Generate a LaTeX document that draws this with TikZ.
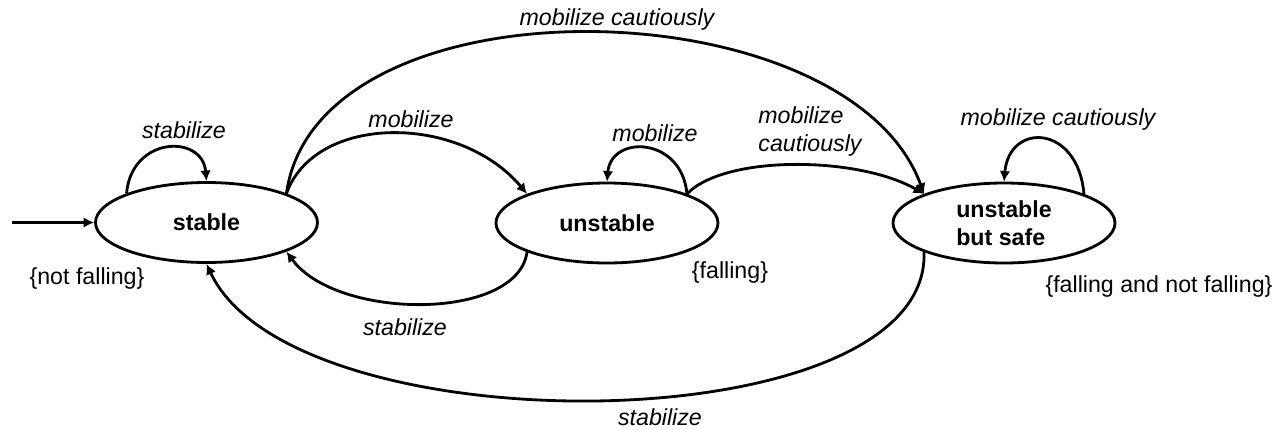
\documentclass[tikz,border=0pt]{standalone}
\usepackage{fontspec}
\setmainfont{Liberation Sans}
\usetikzlibrary{shapes.geometric,arrows.meta}
\begin{document}
\begin{tikzpicture}[>={Latex[length=6pt,width=6pt]}, line width=1.6pt,
  state/.style={draw, ellipse, minimum width=4.44cm, minimum height=1.6cm, inner sep=1pt, align=left, font=\fontsize{13.2pt}{15.9pt}\selectfont\bfseries},
  lbl/.style={inner sep=0pt, align=left, font=\fontsize{13.2pt}{15.9pt}\selectfont\itshape},
  note/.style={inner sep=0pt, font=\fontsize{13.2pt}{15.9pt}\selectfont}]
\useasboundingbox (0,0) rectangle (25.56,-8.6);
\node[state] (stable) at (4.13,-4.45) {stable};
\node[state] (unstable) at (12.14,-4.46) {unstable};
\node[state] (safe) at (20.08,-4.46) {unstable\\but safe};
\coordinate (init) at (0.24,-4.45);
\node[lbl, anchor=base] (stabA) at (3.68,-2.76) {stabilize};
\node[lbl, anchor=base] (mobA) at (8.22,-2.54) {mobilize};
\node[lbl, anchor=base] (cautA) at (12.34,-0.52) {mobilize cautiously};
\node[lbl, anchor=base] (stabB) at (8.10,-6.70) {stabilize};
\node[lbl, anchor=base] (mobB) at (13.10,-2.82) {mobilize};
\node[lbl, anchor=north west] (cautB) at (15.14,-2.11) {mobilize\\cautiously};
\node[lbl, anchor=base] (cautC) at (21.16,-2.50) {mobilize cautiously};
\node[lbl, anchor=base] (stabC) at (13.20,-8.50) {stabilize};
\node[note, anchor=base] (notfall) at (1.74,-5.68) {\{not falling\}};
\node[note, anchor=base] (fall) at (14.60,-5.56) {\{falling\}};
\node[note, anchor=base] (both) at (23.18,-5.84) {\{falling and not falling\}};
\draw[->] (init) -- (stable);
\draw[->] (stable.160) .. controls +(85:1.15) and +(95:0.95) .. (stable.90);
\draw[->] (stable.20) .. controls +(70:1.7) and +(130:2.1) .. (unstable.160);
\draw[->] (stable.20) .. controls +(82:4.45) and +(110:4.45) .. (safe.160);
\draw[->] (unstable.200) .. controls +(262:1.4) and +(306:1.7) .. (stable.340);
\draw[->] (unstable.20) .. controls +(95:1.15) and +(85:0.95) .. (unstable.90);
\draw[->] (unstable.20) .. controls +(46:1.1) and +(150:1.5) .. (safe.160);
\draw[->] (safe.200) .. controls +(272:3.85) and +(295:4.1) .. (stable.270);
\draw[->] (safe.20) .. controls +(95:1.4) and +(85:1.2) .. (safe.90);
\end{tikzpicture}
\end{document}
